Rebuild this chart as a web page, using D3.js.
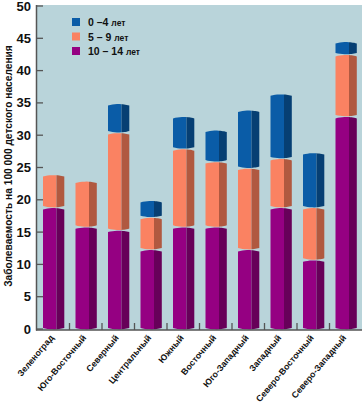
<!DOCTYPE html>
<html>
<head>
<meta charset="utf-8">
<script src="https://cdn.jsdelivr.net/npm/d3@7"></script>
<style>
  body { margin: 0; background: #fff; }
  text { font-family: "Liberation Sans", Arial, sans-serif; font-weight: bold; fill: #111; }
</style>
</head>
<body>
<div id="chart"></div>
<script>
// data
var districts = ["Зеленоград", "Юго-Восточный", "Северный", "Центральный", "Южный",
                 "Восточный", "Юго-Западный", "Западный", "Северо-Восточный", "Северо-Западный"];
var age10_14 = [18.5, 15.5, 15.0, 12.0, 15.5, 15.5, 12.0, 18.5, 10.4, 32.6];
var age5_9   = [5.1, 7.1, 15.1, 5.0, 12.1, 10.1, 12.6, 7.6, 8.1, 9.6];
var age0_4   = [0, 0, 4.5, 2.6, 5.0, 4.9, 9.0, 10.0, 8.5, 2.0];
var yTicks = [0, 5, 10, 15, 20, 25, 30, 35, 40, 45, 50];
var legendLabels = ["0 –4 ", "5 – 9 ", "10 – 14 "];

var width = 362, height = 409;
var margin = {top: 6, right: 0, bottom: 80, left: 37};

var svg = d3.select("#chart").append("svg")
    .attr("width", width)
    .attr("height", height);

var x = d3.scaleBand()
    .domain(districts)
    .range([margin.left, width - margin.right]);

var y = d3.scaleLinear()
    .domain([0, 50])
    .range([329, margin.top]);

// plot background
svg.append("rect")
    .attr("x", margin.left)
    .attr("y", y(50) - 1)
    .attr("width", width - margin.left)
    .attr("height", y(0) - y(50) + 2)
    .attr("fill", "#b9d4da");

var series = [
  {key: "10 – 14", values: age10_14, front: "#950082", side: "#670059"},
  {key: "5 – 9",   values: age5_9,   front: "#fa8262", side: "#b05940"},
  {key: "0 –4",    values: age0_4,   front: "#0a5ca7", side: "#063f73"}
];

var gap = 3.5, frontW = 13.5, sideW = 7.8, offset = 6, bulge = 1.4;

// one arc over the whole column width so front and side join smoothly
function arcY(xx, x0, w, yy, dir) {
  var t = (xx - x0) / w;
  return yy + dir * bulge * 4 * t * (1 - t);
}
function facePath(xa, xb, x0, w, yb, yt) {
  var n = 6, p = "M" + xa + "," + yb + " L" + xa + "," + arcY(xa, x0, w, yt, -1);
  for (var j = 1; j <= n; j++) {
    var xx = xa + (xb - xa) * j / n;
    p += " L" + xx + "," + arcY(xx, x0, w, yt, -1);
  }
  for (var j2 = n; j2 >= 0; j2--) {
    var xx2 = xa + (xb - xa) * j2 / n;
    p += " L" + xx2 + "," + arcY(xx2, x0, w, yb, 1);
  }
  return p + "Z";
}

var bars = svg.append("g");
districts.forEach(function(d, i) {
  var cum = 0;
  series.forEach(function(s, k) {
    var v = s.values[i];
    if (v <= 0) return;
    var yb = k === 0 ? y(0) - 1 : y(cum) - gap;
    cum += v;
    var yt = y(cum);
    var x0 = x(d) + offset, w = frontW + sideW;
    bars.append("path")
      .attr("d", facePath(x0, x0 + frontW, x0, w, yb, yt))
      .attr("fill", s.front);
    bars.append("path")
      .attr("d", facePath(x0 + frontW, x0 + w, x0, w, yb, yt))
      .attr("fill", s.side);
  });
});

// axes
var axisColor = "#555";
svg.append("line")
    .attr("x1", margin.left - 0.5).attr("x2", margin.left - 0.5)
    .attr("y1", y(50) - 1).attr("y2", y(0) + 1.5)
    .attr("stroke", axisColor).attr("stroke-width", 1.5);
svg.append("line")
    .attr("x1", margin.left - 1).attr("x2", width)
    .attr("y1", y(0) + 1).attr("y2", y(0) + 1)
    .attr("stroke", axisColor).attr("stroke-width", 1.5);

var yAxis = svg.append("g");
yTicks.forEach(function(t) {
  yAxis.append("line")
    .attr("x1", margin.left).attr("x2", margin.left + 6)
    .attr("y1", y(t)).attr("y2", y(t))
    .attr("stroke", axisColor).attr("stroke-width", 1.3);
  yAxis.append("text")
    .attr("x", 31).attr("y", y(t) + 4.5)
    .attr("text-anchor", "end")
    .style("font-size", "13px")
    .text(t);
});

// bottom ticks between bands
districts.forEach(function(d, i) {
  if (i === 0) return;
  svg.append("line")
    .attr("x1", x(d)).attr("x2", x(d))
    .attr("y1", y(0) + 1).attr("y2", y(0) - 6)
    .attr("stroke", axisColor).attr("stroke-width", 1.3);
});

// category labels
districts.forEach(function(d) {
  var cx = x(d) + x.bandwidth() / 2 + 1;
  svg.append("text")
    .attr("transform", "translate(" + cx + ",338) rotate(-50)")
    .attr("text-anchor", "end")
    .style("font-size", "8.8px")
    .text(d);
});

// y title
svg.append("text")
    .attr("transform", "translate(12,166) rotate(-90)")
    .attr("text-anchor", "middle")
    .style("font-size", "10.2px")
    .text("Заболеваемость на 100 000 детского населения");

// legend
var legend = svg.append("g");
[series[2], series[1], series[0]].forEach(function(s, i) {
  var ly = 18 + i * 14.5;
  legend.append("rect")
    .attr("x", 72).attr("y", ly)
    .attr("width", 8).attr("height", 8)
    .attr("fill", s.front);
  var t = legend.append("text")
    .attr("x", 88).attr("y", ly + 8)
    .style("font-size", "10.5px")
    .text(legendLabels[i]);
  t.append("tspan").style("font-size", "8.5px").text("лет");
});
</script>
</body>
</html>
